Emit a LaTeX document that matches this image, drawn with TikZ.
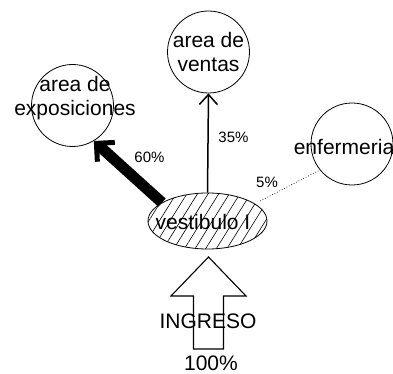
\documentclass[tikz,border=0pt]{standalone}
\usepackage{fontspec}
\setmainfont{Liberation Sans}
\usetikzlibrary{arrows.meta,patterns.meta,shapes.geometric}
\begin{document}
\begin{tikzpicture}[x=1pt,y=-1pt,
  room/.style={circle,draw,line width=0.8pt,minimum size=82pt,inner sep=0pt},
  big/.style={font=\fontsize{21}{24}\selectfont,align=center,inner sep=0pt},
  pct/.style={font=\fontsize{15}{17}\selectfont,inner sep=0pt}]
\useasboundingbox (0,0) rectangle (393,374);
% rooms
\node[room] (vent) at (208.5,52) {};
\node[room] (expo) at (72.5,105.5) {};
\node[room] (enf) at (352,144) {};
\node[ellipse,draw,line width=0.8pt,minimum width=119pt,minimum height=56pt,inner sep=0pt,
  pattern={Lines[angle=58,distance=9pt,line width=0.6pt]}] (vest) at (207.5,221) {};
% connectors
\draw[line width=1.5pt,-{Straight Barb[length=10pt,width=18pt]}] (vest.north) -- (vent.south);
\draw[line width=11pt,-{Straight Barb[length=13pt,width=26pt,line width=5pt 0]}] (vest.158) -- (expo.-59);
\draw[dotted,line width=0.7pt,shorten <=6pt] (vest.20) -- (enf.219);
% block arrow
\draw[line width=1.1pt] (208.5,257) coordinate (tip) -- (246,296) -- (223.5,296) -- (223.5,349) -- (193.5,349) -- (193.5,296) -- (171,296) -- cycle;
% texts
\node[big] (tvent) at (208.5,52) {area de\\ventas};
\node[big] (texpo) at (75,98) {area de\\exposiciones};
\node[big] (tenf) at (344,147) {enfermeria};
\node[big] (tvest) at (203,222) {vestibulo I};
\node[big] (ting) at (208,321) {INGRESO};
\node[big] (t100) at (211,363) {100\%};
\node[pct] (p35) at (233.5,137.5) {35\%};
\node[pct] (p60) at (149.5,157) {60\%};
\node[pct] (p5) at (267,182) {5\%};
\end{tikzpicture}
\end{document}
